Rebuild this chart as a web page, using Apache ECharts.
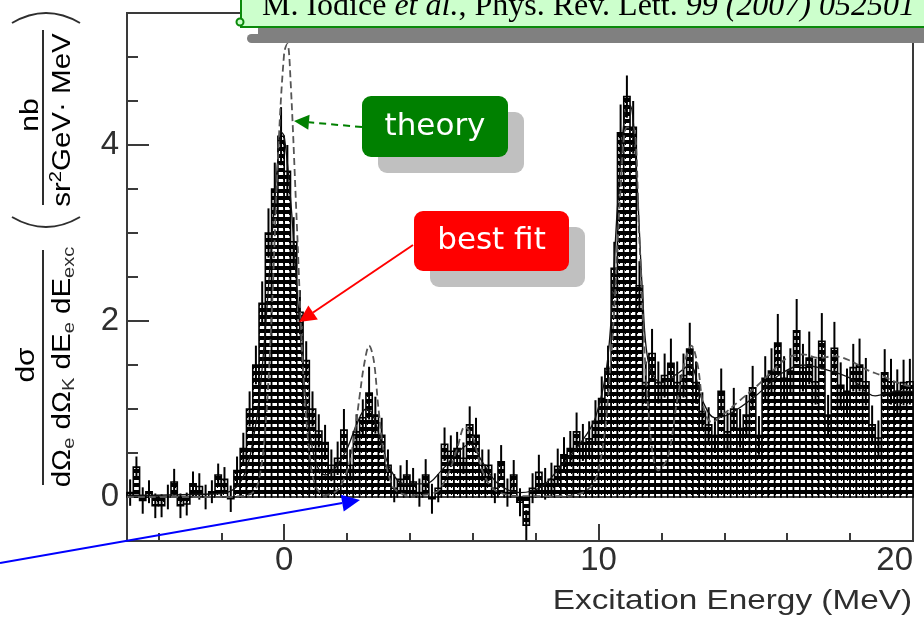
<!DOCTYPE html>
<html>
<head>
<meta charset="utf-8">
<script src="https://cdn.jsdelivr.net/npm/echarts@6/dist/echarts.min.js"></script>
<style>
  html, body { margin: 0; padding: 0; background: #fff; }
  #chart { width: 924px; height: 620px; }
</style>
</head>
<body>
<div id="chart"></div>
<script>
// ---- spectrum: counts per 0.2 MeV bin starting at -5 MeV ----
const binStart = -5.0;
const binWidth = 0.2;
const counts = [
  0.05, 0.34, -0.04, 0.06, -0.1, -0.1, 0.0, 0.17, -0.1, -0.08,
  0.15, 0.12, 0.0, 0.06, 0.25, 0.2, -0.02, 0.3, 0.55, 1.0,
  1.5, 2.2, 3.0, 3.5, 4.1, 3.7, 2.9, 2.1, 1.55, 1.0,
  0.75, 0.62, 0.36, 0.44, 0.76, 0.36, 0.74, 0.9, 1.18, 0.93,
  0.7, 0.36, 0.1, 0.2, 0.25, 0.17, 0.05, 0.25, -0.02, 0.1,
  0.6, 0.52, 0.55, 0.44, 0.82, 0.7, 0.36, 0.36, 0.1, 0.4,
  0.05, 0.25, -0.06, -0.32, 0.1, 0.28, 0.15, 0.2, 0.35, 0.48,
  0.55, 0.74, 0.62, 0.66, 0.86, 1.12, 1.46, 2.6, 4.14, 4.55,
  4.2, 2.4, 1.3, 1.63, 1.3, 1.38, 1.52, 1.3, 1.38, 1.68,
  1.3, 0.97, 0.82, 0.7, 1.2, 0.74, 1.0, 0.78, 0.93, 1.24,
  0.7, 1.35, 1.43, 1.75, 1.35, 1.43, 1.89, 1.47, 1.58, 1.31,
  1.77, 0.93, 1.69, 1.27, 1.2, 1.47, 1.5, 1.31, 0.82, 0.67,
  1.41, 1.31, 1.2, 1.3, 1.31
];
const errors = [
  0.15, 0.12, 0.15, 0.13, 0.14, 0.13, 0.14, 0.15, 0.14, 0.13,
  0.14, 0.15, 0.14, 0.13, 0.13, 0.14, 0.15, 0.16, 0.18, 0.2,
  0.22, 0.25, 0.28, 0.3, 0.33, 0.3, 0.28, 0.25, 0.22, 0.2,
  0.19, 0.2, 0.18, 0.19, 0.24, 0.18, 0.2, 0.21, 0.3, 0.21,
  0.2, 0.18, 0.16, 0.16, 0.17, 0.16, 0.16, 0.18, 0.17, 0.16,
  0.19, 0.18, 0.19, 0.18, 0.21, 0.2, 0.18, 0.18, 0.17, 0.19,
  0.16, 0.17, 0.16, 0.17, 0.17, 0.2, 0.18, 0.19, 0.2, 0.2,
  0.2, 0.22, 0.21, 0.2, 0.24, 0.25, 0.26, 0.3, 0.32, 0.24,
  0.3, 0.28, 0.24, 0.28, 0.24, 0.25, 0.28, 0.24, 0.25, 0.3,
  0.24, 0.22, 0.2, 0.2, 0.26, 0.22, 0.24, 0.22, 0.23, 0.25,
  0.22, 0.25, 0.26, 0.33, 0.25, 0.26, 0.36, 0.27, 0.3, 0.26,
  0.32, 0.23, 0.3, 0.26, 0.26, 0.27, 0.3, 0.27, 0.22, 0.2,
  0.27, 0.26, 0.25, 0.26, 0.26
];

// ---- theoretical prediction (dashed) ----
const theoryE = [-5, -2, -1.4, -1.0, -0.8, -0.6, -0.4, -0.2, 0.0, 0.1,
  0.2, 0.4, 0.6, 0.8, 1.0, 1.3, 1.7, 2.0, 2.2, 2.4,
  2.55, 2.7, 2.85, 3.0, 3.2, 3.5, 4.0, 4.8, 5.2, 5.5,
  5.75, 6.0, 6.3, 6.7, 7.5, 8.5, 9.5, 10.0, 10.4, 10.7,
  10.9, 11.1, 11.3, 11.6, 11.9, 12.2, 12.5, 12.75, 12.95, 13.15,
  13.35, 13.6, 14.0, 14.5, 15.0, 15.5, 16.0, 16.5, 17.0, 17.5,
  18.0, 18.5, 19.0, 19.5, 20.0];
const theoryY = [0, 0, 0.01, 0.05, 0.2, 0.78, 2.06, 3.85, 5.05, 5.15,
  4.75, 3.12, 1.45, 0.5, 0.12, 0.02, 0.08, 0.3, 0.62, 1.15,
  1.52, 1.72, 1.55, 1.0, 0.45, 0.1, 0.02, 0.05, 0.25, 0.55,
  0.8, 0.68, 0.3, 0.08, 0.01, 0.01, 0.05, 0.3, 1.6, 3.5,
  4.2, 4.2, 2.9, 0.9, 0.3, 0.45, 1.1, 1.55, 1.72, 1.5,
  1.0, 0.85, 0.95, 1.1, 1.25, 1.42, 1.58, 1.62, 1.58, 1.6,
  1.55, 1.45, 1.38, 1.3, 1.25];

// ---- best fit (solid) ----
const fitE = [-5, -2, -1.5, -1.2, -1.0, -0.8, -0.6, -0.4, -0.2, -0.1,
  0.0, 0.2, 0.4, 0.6, 0.8, 1.0, 1.3, 1.6, 2.0, 2.3,
  2.6, 2.8, 3.1, 3.4, 3.8, 4.5, 5.0, 5.5, 5.9, 6.3,
  6.8, 7.5, 8.2, 8.8, 9.4, 9.9, 10.3, 10.6, 10.85, 11.0,
  11.2, 11.4, 11.6, 12.0, 12.5, 12.9, 13.3, 13.7, 14.2, 15.0,
  15.8, 16.5, 17.2, 18.0, 18.8, 19.5, 20.0];
const fitY = [0.02, 0.04, 0.12, 0.32, 0.62, 1.1, 1.9, 2.9, 3.85, 4.15,
  4.1, 3.4, 2.4, 1.45, 0.78, 0.4, 0.25, 0.32, 0.55, 0.82,
  1.0, 0.95, 0.6, 0.3, 0.15, 0.15, 0.3, 0.5, 0.6, 0.4,
  0.15, 0.05, 0.12, 0.35, 0.6, 0.9, 1.6, 3.3, 4.4, 4.45,
  3.7, 2.3, 1.5, 1.3, 1.4, 1.5, 1.1, 0.9, 0.95, 1.15,
  1.4, 1.5, 1.45, 1.35, 1.15, 1.2, 1.2];

// ---- axis ticks ----
const xMajorTicks = [0, 10, 20];
const xMinorTicks = [-4, -2, 2, 4, 6, 8, 12, 14, 16, 18];
const yMajorTicks = [0, 2, 4];
const yMinorTicks = [-0.5, 0.5, 1, 1.5, 2.5, 3, 3.5, 4.5, 5, 5.5];

const citation = 'M. Iodice et al., Phys. Rev. Lett. 99 (2007) 052501';

// horizontal hatching used inside each histogram bin
function makeHatch() {
  const c = document.createElement('canvas');
  c.width = 12; c.height = 7;
  const g = c.getContext('2d');
  g.fillStyle = '#fff'; g.fillRect(0, 0, 12, 7);
  g.fillStyle = '#000'; g.fillRect(0, 0, 12, 4);
  g.fillRect(1, 4, 1, 1); g.fillRect(7, 4, 1, 1);
  return c;
}
const hatch = makeHatch();

const histData = counts.map((v, i) => {
  const lo = binStart + i * binWidth;
  return [lo, lo + binWidth, v, errors[i]];
});

function renderBin(params, api) {
  const lo = api.value(0), hi = api.value(1), v = api.value(2), e = api.value(3);
  const a = api.coord([lo, 0]);
  const b = api.coord([hi, v]);
  const mid = (lo + hi) / 2;
  const t = api.coord([mid, v + e]);
  const u = api.coord([mid, v - e]);
  return {
    type: 'group',
    children: [
      {
        type: 'rect',
        shape: { x: a[0], y: Math.min(a[1], b[1]), width: b[0] - a[0], height: Math.abs(b[1] - a[1]) },
        style: { fill: { image: hatch, repeat: 'repeat' }, stroke: '#000', lineWidth: 1.6 }
      },
      {
        type: 'line',
        shape: { x1: t[0], y1: t[1], x2: u[0], y2: u[1] },
        style: { stroke: '#000', lineWidth: 2 }
      }
    ]
  };
}

function arrowParts(x1, y1, x2, y2, color, len, half, dashed) {
  const dx = x2 - x1, dy = y2 - y1, L = Math.hypot(dx, dy);
  const ux = dx / L, uy = dy / L;
  const bx = x2 - ux * len, by = y2 - uy * len;
  return [
    { type: 'line', z: 120, shape: { x1: x1, y1: y1, x2: bx, y2: by },
      style: { stroke: color, lineWidth: 2, lineDash: dashed ? [7, 5] : null } },
    { type: 'polygon', z: 120,
      shape: { points: [[x2, y2], [bx - uy * half, by + ux * half], [bx + uy * half, by - ux * half]] },
      style: { fill: color } }
  ];
}

const axisFont = 'Liberation Sans, Arial, Helvetica, sans-serif';
const ink = '#2e2e2e';

function tagBox(x, y, w, h, color, text) {
  return [
    { type: 'rect', z: 110, shape: { x: x + 16, y: y + 16, width: w, height: h, r: 9 }, style: { fill: '#c0c0c0' } },
    { type: 'rect', z: 111, shape: { x: x, y: y, width: w, height: h, r: 9 }, style: { fill: color } },
    { type: 'text', z: 112, x: x + w / 2, y: y + h / 2,
      style: { text: text, fill: '#fff', font: '31px DejaVu Sans, Verdana, sans-serif',
               align: 'center', verticalAlign: 'middle', textAlign: 'center', textVerticalAlign: 'middle' } }
  ];
}

const sub = { fontSize: 17, fontFamily: axisFont, fill: ink, verticalAlign: 'bottom', color: ink };
const mainTok = { fontSize: 25, fontFamily: axisFont, lineHeight: 30, color: ink, verticalAlign: 'middle' };
const sup = { fontSize: 17, fontFamily: axisFont, color: ink, verticalAlign: 'top' };

// rotated y-axis title: differential cross section with its units
const yTitle = {
  type: 'group', x: 0, y: 560, rotation: Math.PI / 2, z: 50,
  children: [
    { type: 'text', x: 195, y: 27, scaleX: 1.2,
      style: { text: '{m|dσ}', rich: { m: mainTok }, align: 'center', verticalAlign: 'middle',
               textAlign: 'center', textVerticalAlign: 'middle' } },
    { type: 'line', shape: { x1: 75, y1: 43, x2: 310, y2: 43 }, style: { stroke: ink, lineWidth: 2 } },
    { type: 'text', x: 193, y: 63, scaleX: 1.18,
      style: { text: '{m|dΩ}{s|e}{m| dΩ}{s|K}{m| dE}{s|e}{m| dE}{s|exc}', rich: { m: mainTok, s: sub },
               align: 'center', verticalAlign: 'middle', textAlign: 'center', textVerticalAlign: 'middle' } },
    { type: 'bezierCurve', shape: { x1: 343, y1: 12, cpx1: 323, cpy1: 46, x2: 343, y2: 80 },
      style: { stroke: ink, lineWidth: 2, fill: null } },
    { type: 'text', x: 445, y: 31, scaleX: 1.2,
      style: { text: '{m|nb}', rich: { m: mainTok }, align: 'center', verticalAlign: 'middle',
               textAlign: 'center', textVerticalAlign: 'middle' } },
    { type: 'line', shape: { x1: 355, y1: 43, x2: 530, y2: 43 }, style: { stroke: ink, lineWidth: 2 } },
    { type: 'text', x: 440, y: 63, scaleX: 1.18,
      style: { text: '{m|sr}{p|2}{m|GeV· MeV}', rich: { m: mainTok, p: sup },
               align: 'center', verticalAlign: 'middle', textAlign: 'center', textVerticalAlign: 'middle' } },
    { type: 'bezierCurve', shape: { x1: 537, y1: 12, cpx1: 557, cpy1: 46, x2: 537, y2: 80 },
      style: { stroke: ink, lineWidth: 2, fill: null } }
  ]
};

const citeParts = citation.split(/(et al\.|99 \(2007\) 052501)/).filter(s => s.length);
const citeRich = citeParts.map(s => (s === 'et al.' || s.startsWith('99')) ? '{i|' + s + '}' : '{r|' + s + '}').join('');
const serif = 'Liberation Serif, Times New Roman, serif';

const graphics = [
  yTitle,
  { type: 'text', x: 912, y: 601, scaleX: 1.19, z: 50,
    style: { text: 'Excitation Energy (MeV)', font: '28px ' + axisFont, fill: ink,
             align: 'right', verticalAlign: 'middle', textAlign: 'right', textVerticalAlign: 'middle' } },
  // reference banner
  { type: 'rect', z: 100, shape: { x: 258, y: 27, width: 700, height: 16 }, style: { fill: '#808080' } },
  { type: 'rect', z: 100, shape: { x: 247, y: 34, width: 30, height: 9, r: 4.5 }, style: { fill: '#808080' } },
  { type: 'rect', z: 101, shape: { x: 241, y: -20, width: 720, height: 47 },
    style: { fill: '#ccffcc', stroke: '#0a8a0a', lineWidth: 2 } },
  { type: 'circle', z: 102, shape: { cx: 240, cy: 22, r: 3.5 }, style: { fill: '#ccffcc', stroke: '#0a8a0a', lineWidth: 2 } },
  { type: 'text', z: 103, x: 262, y: 7,
    style: { text: citeRich,
             rich: { r: { fontSize: 32, fontFamily: serif, color: '#0b5e0b' },
                     i: { fontSize: 32, fontFamily: serif, fontStyle: 'italic', color: '#0b5e0b' } },
             align: 'left', verticalAlign: 'middle', textAlign: 'left', textVerticalAlign: 'middle' } },
  ...tagBox(362, 96, 146, 61, '#008000', 'theory'),
  ...tagBox(414, 211, 155, 60, '#ff0000', 'best fit'),
  ...arrowParts(362, 127, 294, 121, '#008000', 15, 7.5, true),
  ...arrowParts(413, 245, 299, 322, '#ff0000', 17, 8.5, false),
  ...arrowParts(0, 563, 360, 500, '#0000ff', 18, 8.5, false)
];

const tickStyle = { color: '#3a3a3a', width: 2 };
const chart = echarts.init(document.getElementById('chart'), null, { renderer: 'canvas' });
chart.setOption({
  animation: false,
  backgroundColor: '#fff',
  grid: { left: 127, right: 11, top: 13, bottom: 79, show: true, borderColor: '#3a3a3a', borderWidth: 2, backgroundColor: 'transparent' },
  xAxis: [
    { type: 'value', min: -5, max: 20, position: 'bottom',
      axisLine: { show: false, onZero: false }, splitLine: { show: false },
      axisTick: { show: true, inside: true, length: 17, customValues: xMajorTicks, lineStyle: tickStyle },
      axisLabel: { customValues: xMajorTicks, margin: 3, fontSize: 33, fontFamily: axisFont, color: ink, alignMaxLabel: 'right' } },
    { type: 'value', min: -5, max: 20, position: 'bottom',
      axisLine: { show: false, onZero: false }, splitLine: { show: false },
      axisTick: { show: true, inside: true, length: 8, customValues: xMinorTicks, lineStyle: tickStyle },
      axisLabel: { show: false } }
  ],
  yAxis: [
    { type: 'value', min: -0.5, max: 5.5, position: 'left',
      axisLine: { show: false, onZero: false }, splitLine: { show: false },
      axisTick: { show: true, inside: true, length: 22, customValues: yMajorTicks, lineStyle: tickStyle },
      axisLabel: { customValues: yMajorTicks, margin: 8, fontSize: 33, fontFamily: axisFont, color: ink } },
    { type: 'value', min: -0.5, max: 5.5, position: 'left',
      axisLine: { show: false, onZero: false }, splitLine: { show: false },
      axisTick: { show: true, inside: true, length: 11, customValues: yMinorTicks, lineStyle: tickStyle },
      axisLabel: { show: false } }
  ],
  series: [
    { type: 'custom', name: 'data', renderItem: renderBin, data: histData,
      encode: { x: [0, 1], y: 2 }, z: 2 },
    { type: 'line', name: 'best fit', data: fitE.map((e, i) => [e, fitY[i]]),
      smooth: 0.35, symbol: 'none', z: 3,
      lineStyle: { color: '#111', width: 1.3 } },
    { type: 'line', name: 'theory', data: theoryE.map((e, i) => [e, theoryY[i]]),
      smooth: 0.35, symbol: 'none', z: 4,
      lineStyle: { color: '#555', width: 1.8, type: [7, 4] } }
  ],
  graphic: graphics
});
</script>
</body>
</html>
